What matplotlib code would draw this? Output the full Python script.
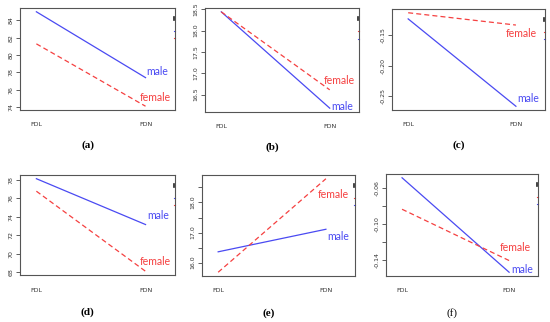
import numpy as np
import matplotlib
matplotlib.use("Agg")
import matplotlib.pyplot as plt

plt.rcParams["axes.unicode_minus"] = False

levels = ["FDL", "FDN"]
sexes = ["male", "female"]

a_male = [85.0, 77.4]
a_female = [81.3, 74.1]
b_male = [18.44, 16.18]
b_female = [18.44, 16.61]
c_male = [-0.124, -0.266]
c_female = [-0.114, -0.134]
d_male = [78.1, 73.15]
d_female = [76.75, 68.1]
e_male = [16.36, 17.11]
e_female = [15.68, 18.79]
f_male = [-0.049, -0.154]
f_female = [-0.084, -0.141]

panel_names = ["(a)", "(b)", "(c)", "(d)", "(e)", "(f)"]

# labelled y ticks and unlabelled in-between ticks
a_ticks = [74, 76, 78, 80, 82, 84]
b_ticks = [16.5, 17.0, 17.5, 18.0, 18.5]
c_ticks = [-0.25, -0.20, -0.15]
d_ticks = [68, 70, 72, 74, 76, 78]
e_ticks = [16.0, 17.0, 18.0]
e_minor = [16.5, 17.5, 18.5]
f_ticks = [-0.14, -0.10, -0.06]
f_minor = [-0.12, -0.08]

yticks = [a_ticks, b_ticks, c_ticks, d_ticks, e_ticks, f_ticks]
yminor = [[], [], [], [], e_minor, f_minor]
fmts = ["{x:.0f}", "{x:.1f}", "{x:.2f}", "{x:.0f}", "{x:.1f}", "{x:.2f}"]

# pixel boxes [left, top, right, bottom] of each panel in the 550x322 picture
boxes = [(20, 8, 175, 110), (205, 8, 359, 112), (392, 9, 545, 110),
         (20, 175, 175, 275), (202, 175, 355, 276), (386, 174, 538, 276)]
# label offsets in pixels from the FDN end: (male dx, dy), (female dx, dy)
offsets = [((1, 6), (-6, 9)), ((2, 2), (-6, 9)), ((1, 8), (-10, -8)),
           ((2, 9), (-6, 10)), ((1, -7), (-8, -16)), ((2, 3), (-9, 13))]

data = [(a_male, a_female), (b_male, b_female), (c_male, c_female),
        (d_male, d_female), (e_male, e_female), (f_male, f_female)]

W, H = 550, 322
fig = plt.figure(figsize=(5.5, 3.22), dpi=100)

blue = "#4a4af2"
red = "#f54040"
x = np.arange(1, len(levels) + 1)

for i, (male, female) in enumerate(data):
    l, t, r, b = boxes[i]
    ax = fig.add_axes([l / W, 1 - b / H, (r - l) / W, (b - t) / H])
    ax.plot(x, male, color=blue, lw=0.9)
    ax.plot(x, female, color=red, lw=0.9, ls=(0, (4, 2.5)))
    lo = min(min(male), min(female))
    hi = max(max(male), max(female))
    pad = (hi - lo) * 0.04
    ax.set_ylim(lo - pad, hi + pad)
    ax.set_xlim(0.85, 2.27)
    ax.set_xticks(x)
    ax.set_xticklabels(levels)
    ax.tick_params(axis="x", length=0, pad=9, labelsize=4.5, labelcolor="#333333")
    ax.set_yticks(yticks[i])
    ax.set_yticks(yminor[i], minor=True)
    ax.yaxis.set_major_formatter(fmts[i])
    ax.tick_params(axis="y", which="both", length=3, width=0.6, color="#444444",
                   labelsize=4.5, labelcolor="#333333", pad=1.5)
    for lab in ax.get_yticklabels():
        lab.set_rotation(90)
        lab.set_va("center")
    for s in ax.spines.values():
        s.set_color("#555555")
        s.set_linewidth(0.8)

    (mdx, mdy), (fdx, fdy) = offsets[i]
    ax.annotate("male", (x[-1], male[-1]), xytext=(mdx, mdy), textcoords="offset pixels",
                color=blue, fontsize=7.6, family="Lato", ha="left", va="center")
    ax.annotate("female", (x[-1], female[-1]), xytext=(fdx, fdy), textcoords="offset pixels",
                color=red, fontsize=7.6, family="Lato", ha="left", va="center")

    # remains of the cut-off legend at the right edge
    order = [blue, red] if male[-1] >= female[-1] else [red, blue]
    ax.plot([0.995, 0.995], [0.885, 0.915], transform=ax.transAxes, color="#222222",
            lw=1.2, clip_on=False)
    ax.plot([0.993, 1.0], [0.775, 0.775], transform=ax.transAxes, color=order[0],
            lw=0.8, clip_on=False)
    ax.plot([0.993, 1.0], [0.705, 0.705], transform=ax.transAxes, color=order[1],
            lw=0.8, clip_on=False)

    cx = (l + r) / 2 - 10
    cy = b + 35 if i < 3 else b + 37
    fig.text(cx / W, 1 - cy / H, panel_names[i], ha="center", va="center",
             fontsize=8, family="Liberation Serif", fontweight="bold" if i != 5 else "normal")

fig.savefig("out.png", dpi=100)
